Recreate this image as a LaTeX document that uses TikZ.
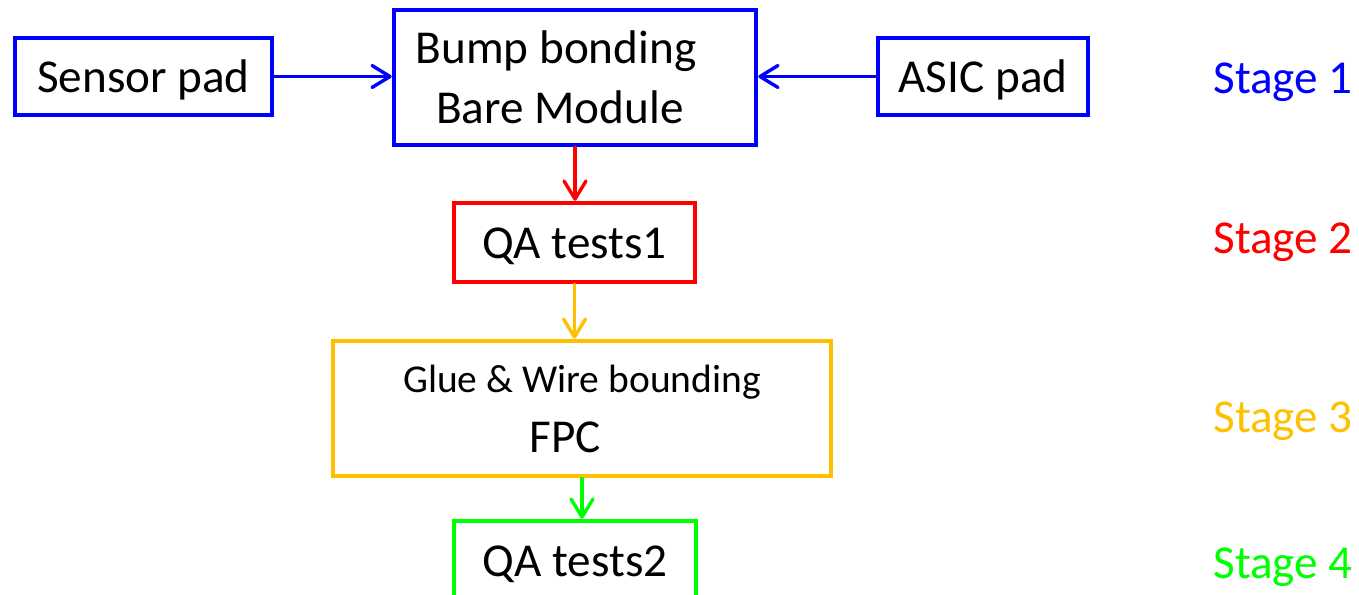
\documentclass[tikz,border=0pt]{standalone}
\usepackage{fontspec}
\setmainfont{Carlito}
\usetikzlibrary{arrows.meta,positioning}
\definecolor{stageblue}{RGB}{0,0,255}
\definecolor{stagered}{RGB}{255,0,0}
\definecolor{stageyellow}{RGB}{255,192,0}
\definecolor{stagegreen}{RGB}{0,255,0}

\begin{document}
\begin{tikzpicture}[x=0.5pt, y=-0.5pt,
  box/.style={draw, line width=2.3pt, inner sep=0pt, align=center, font=\fontsize{23.6}{30}\selectfont},
  onebox/.style={box, text height=16pt, text depth=0pt},
  link/.style={line width=1.7pt, line cap=round, -{Straight Barb[length=9pt, width=11pt, round]}},
  stagelbl/.style={anchor=base west, inner sep=0pt, font=\fontsize{23.6}{30}\selectfont}]
\useasboundingbox (0,0) rectangle (1359,594);
\clip (0,0) rectangle (1359,594);

% Stage 1: pads go into bump bonding
\node[onebox, draw=stageblue, minimum width=128.5pt, minimum height=38.5pt] (sensor) at (143.5,76.5) {Sensor pad};
\node[box, draw=stageblue, minimum width=181pt, minimum height=67.5pt] (bump) at (575,77.5) {Bump bonding\hspace*{19pt}\\Bare Module\hspace*{15pt}};
\node[onebox, draw=stageblue, minimum width=105pt, minimum height=38.5pt] (asic) at (983,76.5) {ASIC pad};
\draw[link, stageblue] (sensor.east) -- (sensor.east -| bump.west);
\draw[link, stageblue] (asic.west) -- (asic.west -| bump.east);

% Stages 2 to 4
\node[onebox, draw=stagered, minimum width=120.5pt, minimum height=39.5pt] (qa1) at (574.5,242.5) {QA tests1};
\node[box, draw=stageyellow, minimum width=249pt, minimum height=67.5pt] (glue) at (582,408.5) {{\fontsize{19.75}{29.5}\selectfont Glue \& Wire bounding}\\FPC\hspace*{17pt}};
\node[onebox, draw=stagegreen, minimum width=121pt, minimum height=39.5pt] (qa2) at (575,560.5) {QA tests2};
\draw[link, stagered] (bump.south) -- (bump.south |- qa1.north);
\draw[link, stageyellow] (qa1.south) -- (qa1.south |- glue.north);
\draw[link, stagegreen] (glue.south) -- (glue.south |- qa2.north);

% Stage labels
\node[stagelbl, text=stageblue] (st1) at (1213,93) {Stage 1};
\node[stagelbl, text=stagered] (st2) at (1213,253) {Stage 2};
\node[stagelbl, text=stageyellow] (st3) at (1213,432) {Stage 3};
\node[stagelbl, text=stagegreen] (st4) at (1213,578) {Stage 4};
\end{tikzpicture}
\end{document}
